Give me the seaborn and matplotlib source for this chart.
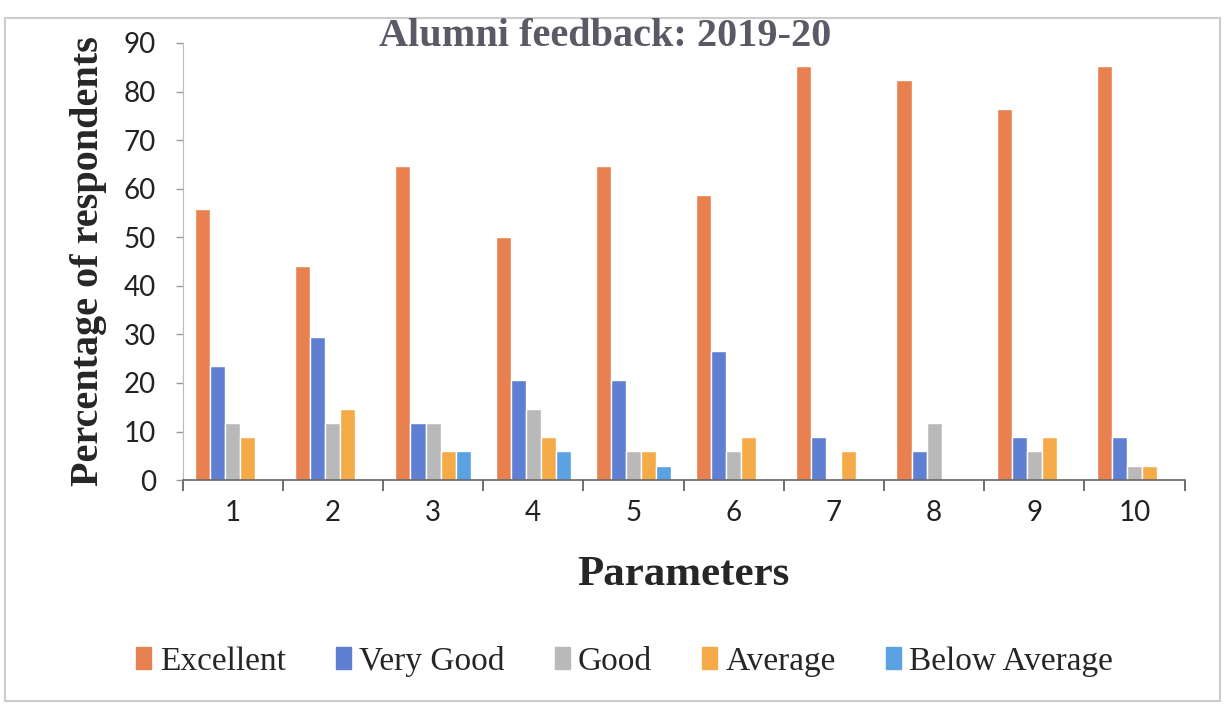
import pandas as pd
import matplotlib
matplotlib.use('Agg')
import matplotlib.pyplot as plt
import seaborn as sns
from matplotlib.patches import Rectangle

# values (percent of 34 respondents)
parameters = ['1', '2', '3', '4', '5', '6', '7', '8', '9', '10']
ratings = ['Excellent', 'Very Good', 'Good', 'Average', 'Below Average']
excellent = [55.9, 44.1, 64.7, 50.0, 64.7, 58.8, 85.3, 82.4, 76.5, 85.3]
very_good = [23.5, 29.4, 11.8, 20.6, 20.6, 26.5, 8.8, 5.9, 8.8, 8.8]
good = [11.8, 11.8, 11.8, 14.7, 5.9, 5.9, 0, 11.8, 5.9, 2.9]
average = [8.8, 14.7, 5.9, 8.8, 5.9, 8.8, 5.9, 0, 8.8, 2.9]
below_average = [0, 0, 5.9, 5.9, 2.9, 0, 0, 0, 0, 0]
colors = ['#E8804F', '#5F7FD2', '#B9B9B9', '#F5AA48', '#5AA2E2']

series = [excellent, very_good, good, average, below_average]
rows = []
for r, vals in zip(ratings, series):
    for p, v in zip(parameters, vals):
        rows.append({'Parameter': p, 'Rating': r, 'Value': v})
df = pd.DataFrame(rows)

sns.set_style('white')
fig = plt.figure(figsize=(12.25, 7.04), dpi=100)
ax = fig.add_axes([0.149, 0.318, 0.818, 0.621])

sns.barplot(data=df, x='Parameter', y='Value', hue='Rating',
            hue_order=ratings, order=parameters, palette=colors,
            width=0.75, saturation=1, ax=ax, legend=False)

ax.set_ylim(0, 90)
ax.set_xlim(-0.5, 9.5)
ax.set_yticks(range(0, 91, 10))
ax.tick_params(axis='both', labelsize=20, colors='#222222')
for lab in ax.get_xticklabels() + ax.get_yticklabels():
    lab.set_family('Lato')
ax.tick_params(axis='x', length=0, pad=14)
ax.tick_params(axis='y', length=5, width=1, color='#999999', left=True, pad=14)
ax.set_xticks([i + 0.5 for i in range(-1, 10)], minor=True)
ax.tick_params(axis='x', which='minor', length=8, width=1.2, color='#555555', bottom=True)

for s in ['top', 'right']:
    ax.spines[s].set_visible(False)
ax.spines['left'].set_color('#bbbbbb')
ax.spines['bottom'].set_color('#666666')
ax.spines['bottom'].set_linewidth(1.2)

ax.set_ylabel('Percentage of respondents', family='Liberation Serif',
              fontweight='bold', fontsize=29, labelpad=12)
ax.set_xlabel('Parameters', family='Liberation Serif', fontweight='bold',
              fontsize=31, labelpad=22)
fig.text(0.494, 0.948, 'Alumni feedback: 2019-20', family='Liberation Serif',
         fontweight='bold', fontsize=29, color='#5a5a66', ha='center', va='center')

handles = [Rectangle((0, 0), 1, 1, color=c) for c in colors]
fig.legend(handles, ratings, loc='center', bbox_to_anchor=(0.51, 0.061), ncol=5,
           frameon=False, prop={'family': 'Liberation Serif', 'size': 24},
           handlelength=0.45, handleheight=0.65, handletextpad=0.25, columnspacing=1.5)

fig.patches.append(Rectangle((0.004, 0.004), 0.992, 0.97, transform=fig.transFigure,
                             fill=False, edgecolor='#cccccc', linewidth=1.5))

fig.savefig('out.png', dpi=100)
plt.close()
